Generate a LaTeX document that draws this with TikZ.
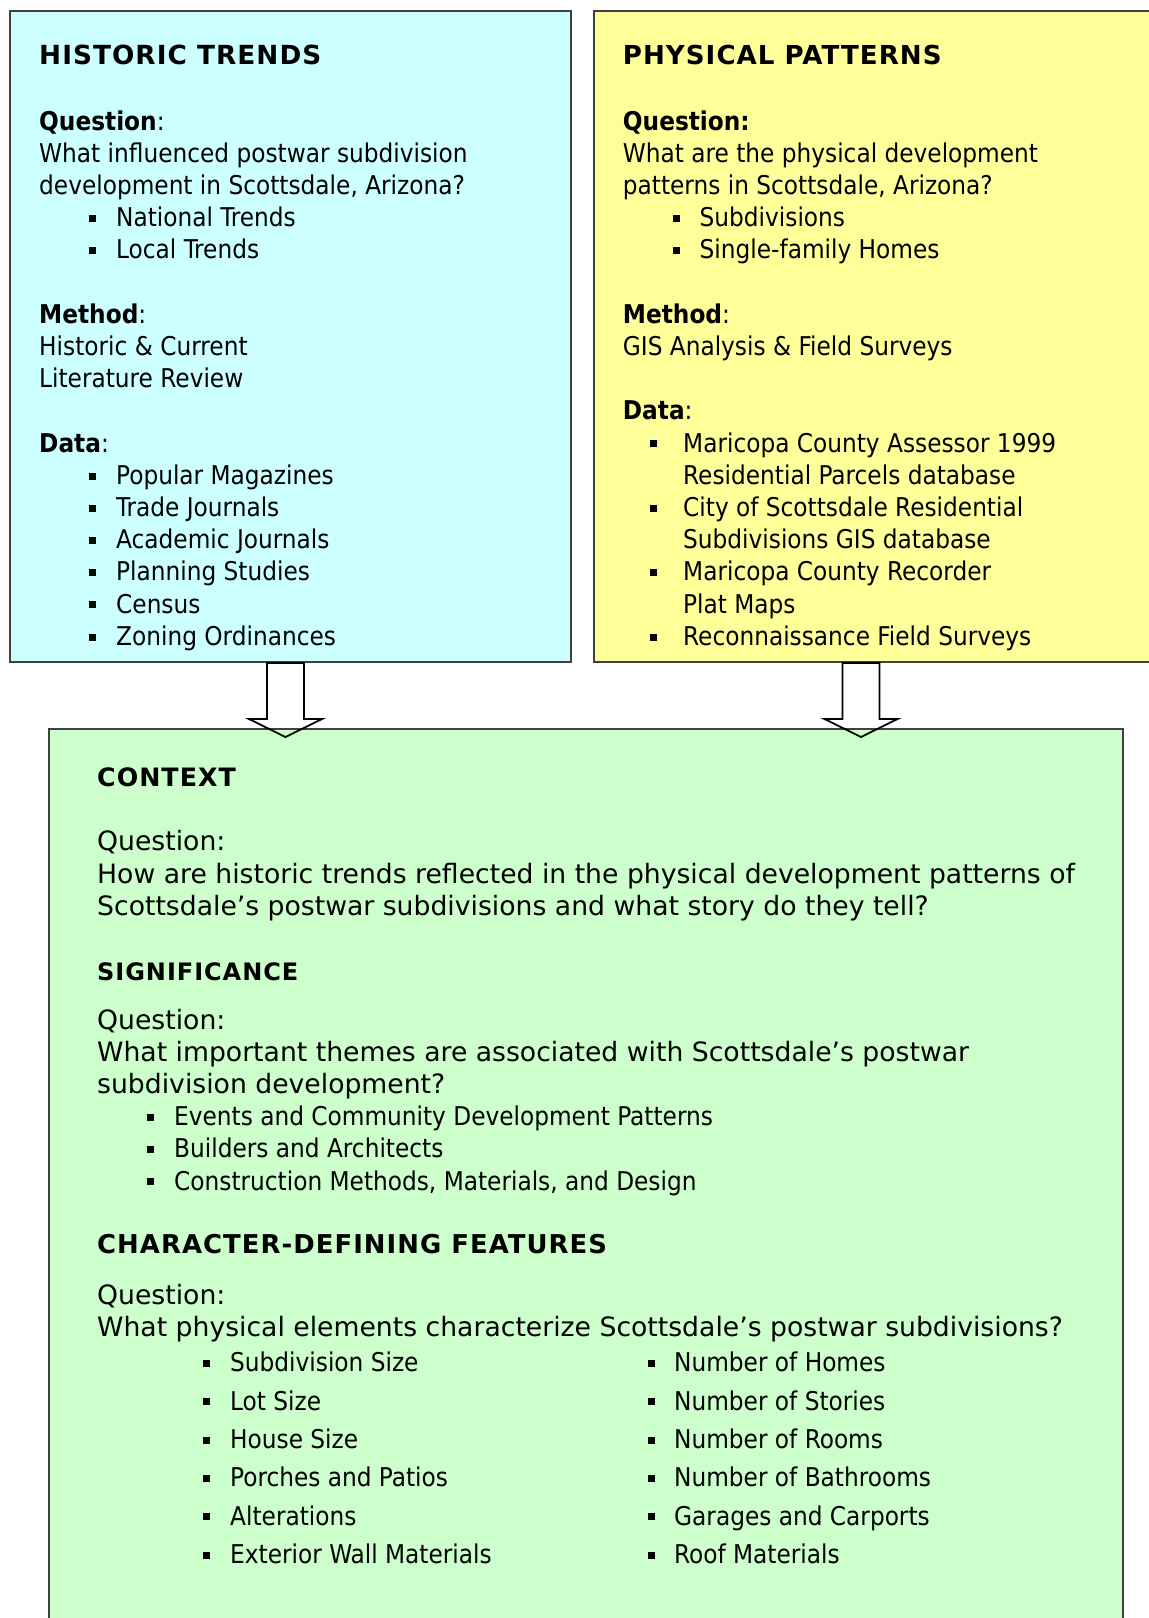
\documentclass[tikz,border=0pt]{standalone}
\usepackage{fontspec}
\setmainfont{DejaVu Sans}
\newfontfamily\tahff{DejaVu Sans Condensed}
\newfontfamily\hdff{DejaVu Sans}[LetterSpace=4]
\definecolor{bluefill}{HTML}{CCFFFF}
\definecolor{yellowfill}{HTML}{FFFF99}
\definecolor{greenfill}{HTML}{CCFFCC}
\definecolor{framegray}{HTML}{404040}
\newcommand\tahfont{\tahff\fontsize{25.85}{32.2}\selectfont}
\newcommand\verfont{\fontsize{26.65}{32}\selectfont}
\tikzset{
  boxframe/.style={draw=framegray, line width=2pt, inner sep=0pt, anchor=north west},
  tx/.style={anchor=base west, inner sep=0pt, font=\tahfont},
  vt/.style={anchor=base west, inner sep=0pt, font=\verfont},
  hd/.style={anchor=base west, inner sep=0pt, font={\hdff\bfseries\fontsize{#1}{30}\selectfont}},
  hd/.default=25.5,
  bul/.style={fill=black, minimum size=7pt, inner sep=0pt, anchor=center},
  blockarrow/.style={draw=black, line width=1.8pt, line join=miter},
}
% name, bullet x, text x, baseline, text
\newcommand\bitem[5]{\node[bul] (#1b) at (#2,#4-8.3) {}; \node[tx] (#1) at (#3,#4) {#5};}
\newcommand\blockarr[1]{\draw[blockarrow] (#1) ++(-18.5,0) -- ++(37,0) -- ++(0,56) -- ++(18,0) -- ++(-36.5,18) -- ++(-36.5,-18) -- ++(18,0) -- cycle;}
\begin{document}
\begin{tikzpicture}[x=1pt,y=-1pt]
\useasboundingbox (0,0) rectangle (1149,1618);
\clip (0,0) rectangle (1149,1618);
\fill[white] (0,0) rectangle (1149,1618);
% boxes
\node[boxframe, fill=bluefill, minimum width=561.5pt, minimum height=651.5pt] (blue) at (8.5,9.5) {};
\node[boxframe, fill=yellowfill, minimum width=580pt, minimum height=651.5pt] (yellow) at (592.5,9.5) {};
\node[boxframe, fill=greenfill, minimum width=1074.8pt, minimum height=920pt] (green) at (47.5,728) {};
% arrows
\coordinate (la) at (285.5,663);
\coordinate (ra) at (861,663);
\blockarr{la}
\blockarr{ra}
% blue box text
\node[hd=26.3] (h1) at (39,64.3) {HISTORIC TRENDS};
\node[tx] (q1) at (39,130) {\textbf{Question}:};
\node[tx] (q1a) at (39,162.3) {What influenced postwar subdivision};
\node[tx] (q1b) at (39,194.5) {development in Scottsdale, Arizona?};
\bitem{n1}{92.5}{116}{226.7}{National Trends}
\bitem{n2}{92.5}{116}{258.9}{Local Trends}
\node[tx] (m1) at (39,323.3) {\textbf{Method}:};
\node[tx] (m1a) at (39,355.5) {Historic \& Current};
\node[tx] (m1b) at (39,387.7) {Literature Review};
\node[tx] (d1) at (39,452.1) {\textbf{Data}:};
\bitem{d1a}{92.5}{116}{484.3}{Popular Magazines}
\bitem{d1b}{92.5}{116}{516.5}{Trade Journals}
\bitem{d1c}{92.5}{116}{548.7}{Academic Journals}
\bitem{d1d}{92.5}{116}{580.9}{Planning Studies}
\bitem{d1e}{92.5}{116}{613.1}{Census}
\bitem{d1f}{92.5}{116}{645.3}{Zoning Ordinances}
% yellow box text
\node[hd=26.1] (h2) at (622.7,64.3) {PHYSICAL PATTERNS};
\node[tx] (q2) at (622.7,130) {\textbf{Question:}};
\node[tx] (q2a) at (622.7,162.3) {What are the physical development};
\node[tx] (q2b) at (622.7,194.5) {patterns in Scottsdale, Arizona?};
\bitem{p1}{676.5}{699.5}{226.7}{Subdivisions}
\bitem{p2}{676.5}{699.5}{258.9}{Single-family Homes}
\node[tx] (m2) at (622.7,323.3) {\textbf{Method}:};
\node[tx] (m2a) at (622.7,355.5) {GIS Analysis \& Field Surveys};
\node[tx] (d2) at (622.7,419.9) {\textbf{Data}:};
\bitem{d2a}{653}{683}{452.1}{Maricopa County Assessor 1999}
\node[tx] (d2a2) at (683,484.3) {Residential Parcels database};
\bitem{d2b}{653}{683}{516.5}{City of Scottsdale Residential}
\node[tx] (d2b2) at (683,548.7) {Subdivisions GIS database};
\bitem{d2c}{653}{683}{580.9}{Maricopa County Recorder}
\node[tx] (d2c2) at (683,613.1) {Plat Maps};
\bitem{d2d}{653}{683}{645.3}{Reconnaissance Field Surveys}
% green box text
\node[hd=25.3] (h3) at (97,786) {CONTEXT};
\node[vt] (q3) at (97,850.7) {Question:};
\node[vt] (q3a) at (97,883) {How are historic trends reflected in the physical development patterns of};
\node[vt] (q3b) at (97,915.3) {Scottsdale’s postwar subdivisions and what story do they tell?};
\node[hd=24] (h4) at (97,980) {SIGNIFICANCE};
\node[vt] (q4) at (97,1029.5) {Question:};
\node[vt] (q4a) at (97,1061.7) {What important themes are associated with Scottsdale’s postwar};
\node[vt] (q4b) at (97,1093.5) {subdivision development?};
\bitem{s1}{150.8}{174}{1125.5}{Events and Community Development Patterns}
\bitem{s2}{150.8}{174}{1157.7}{Builders and Architects}
\bitem{s3}{150.8}{174}{1190}{Construction Methods, Materials, and Design}
\node[hd=25.9] (h5) at (97,1253.5) {CHARACTER-DEFINING FEATURES};
\node[vt] (q5) at (97,1304) {Question:};
\node[vt] (q5a) at (97,1336) {What physical elements characterize Scottsdale’s postwar subdivisions?};
\bitem{fl1}{206.5}{230}{1371.8}{Subdivision Size}
\bitem{fl2}{206.5}{230}{1410.1}{Lot Size}
\bitem{fl3}{206.5}{230}{1448.4}{House Size}
\bitem{fl4}{206.5}{230}{1486.7}{Porches and Patios}
\bitem{fl5}{206.5}{230}{1525}{Alterations}
\bitem{fl6}{206.5}{230}{1563.3}{Exterior Wall Materials}
\bitem{fr1}{651}{674}{1371.8}{Number of Homes}
\bitem{fr2}{651}{674}{1410.1}{Number of Stories}
\bitem{fr3}{651}{674}{1448.4}{Number of Rooms}
\bitem{fr4}{651}{674}{1486.7}{Number of Bathrooms}
\bitem{fr5}{651}{674}{1525}{Garages and Carports}
\bitem{fr6}{651}{674}{1563.3}{Roof Materials}
\end{tikzpicture}
\end{document}
